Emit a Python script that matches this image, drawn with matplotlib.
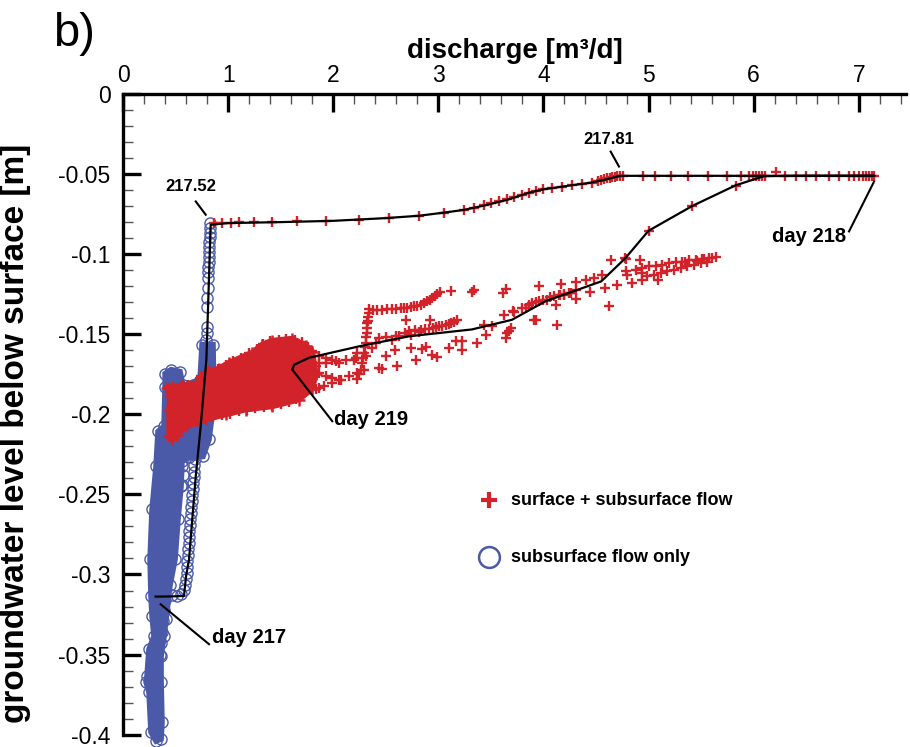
import matplotlib
matplotlib.use('Agg')
from matplotlib import pyplot as plt
from matplotlib.ticker import MultipleLocator

plt.rcParams['font.family'] = ['Liberation Sans Narrow', 'Liberation Sans', 'DejaVu Sans']
BOLD = ['Liberation Sans', 'DejaVu Sans']

RED = '#d2232a'
BLUE = '#4b5aa8'

x_ticks = [0, 1, 2, 3, 4, 5, 6, 7]
y_ticks = [0, -0.05, -0.1, -0.15, -0.2, -0.25, -0.3, -0.35, -0.4]
y_labels = ['0', '-0.05', '-0.1', '-0.15', '-0.2', '-0.25', '-0.3', '-0.35', '-0.4']

# model trajectory day 217 -> 218 -> 219 (discharge, level)
path = [(0.31, -0.3138), (0.45, -0.3137), (0.58, -0.3134), (0.60, -0.3010),
        (0.628, -0.2905), (0.692, -0.2386), (0.739, -0.2074), (0.793, -0.1658),
        (0.834, -0.0817), (1.0, -0.0806), (1.5, -0.0800), (2.0, -0.0792),
        (2.5, -0.0775), (2.82, -0.0760), (3.05, -0.0741), (3.24, -0.0724),
        (3.44, -0.0696), (3.65, -0.0662), (3.86, -0.0617), (4.0, -0.0595),
        (4.27, -0.0570), (4.46, -0.0553), (4.60, -0.0533), (4.73, -0.0511),
        (5.5, -0.0511), (6.2, -0.0511), (7.15, -0.0511), (6.5, -0.0511),
        (6.1, -0.0513), (5.83, -0.0570), (5.42, -0.0698), (5.0, -0.0854),
        (4.78, -0.1025), (4.55, -0.1170), (4.02, -0.1294), (3.70, -0.1410),
        (3.32, -0.1470), (2.72, -0.1513), (2.25, -0.1575), (1.77, -0.1647),
        (1.63, -0.1690), (1.61, -0.1720)]

# subsurface flow only: saturated core of the circle cloud (outline)
blue_mass = [(0.400, -0.1746), (0.457, -0.1721), (0.542, -0.1733), (0.571, -0.1820),
             (0.733, -0.1783), (0.752, -0.1565), (0.856, -0.1565), (0.866, -0.1908),
             (0.818, -0.2157), (0.761, -0.2263), (0.628, -0.2269), (0.561, -0.2294),
             (0.552, -0.2450), (0.523, -0.2656), (0.495, -0.2905), (0.447, -0.3067),
             (0.409, -0.3279), (0.390, -0.3385), (0.362, -0.3510), (0.362, -0.3672),
             (0.371, -0.3921), (0.362, -0.4027), (0.314, -0.4040), (0.266, -0.3984),
             (0.247, -0.3734), (0.219, -0.3672), (0.228, -0.3635), (0.247, -0.3466),
             (0.295, -0.3385), (0.276, -0.3261), (0.266, -0.3136), (0.257, -0.2905),
             (0.276, -0.2594), (0.314, -0.2325), (0.333, -0.2107), (0.390, -0.2076),
             (0.400, -0.1827)]

blue_col = [(0.830, -0.0804), (0.828, -0.0835), (0.826, -0.0867), (0.824, -0.0892),
            (0.822, -0.0923), (0.820, -0.0954), (0.818, -0.0985), (0.816, -0.1016),
            (0.814, -0.1047), (0.812, -0.1079), (0.810, -0.1110), (0.808, -0.1147),
            (0.805, -0.1209), (0.802, -0.1272), (0.800, -0.1328), (0.797, -0.1453),
            (0.795, -0.1490), (0.793, -0.1534), (0.790, -0.1577), (0.788, -0.1615),
            (0.786, -0.1658), (0.784, -0.1702), (0.782, -0.1739), (0.780, -0.1780),
            (0.778, -0.1820), (0.775, -0.1860), (0.772, -0.1900)]

blue_strip = [(0.685, -0.2282), (0.680, -0.2319), (0.676, -0.2357), (0.671, -0.2394),
              (0.666, -0.2431), (0.661, -0.2469), (0.657, -0.2506), (0.652, -0.2544),
              (0.647, -0.2581), (0.642, -0.2618), (0.637, -0.2656), (0.633, -0.2693),
              (0.628, -0.2731), (0.628, -0.2768), (0.623, -0.2805), (0.618, -0.2843),
              (0.618, -0.2880), (0.609, -0.2918), (0.609, -0.2955), (0.604, -0.2993),
              (0.599, -0.3030), (0.590, -0.3067), (0.580, -0.3099), (0.552, -0.3123),
              (0.514, -0.3136), (0.466, -0.3130), (0.400, -0.3160), (0.390, -0.3220),
              (0.380, -0.3290), (0.370, -0.3360), (0.360, -0.3430), (0.350, -0.3500),
              (0.560, -0.2320), (0.570, -0.2380), (0.565, -0.2440)]

# surface + subsurface flow: saturated core of the cross cloud (outline)
red_mass = [(0.419, -0.1833), (0.561, -0.1820), (0.695, -0.1808), (0.790, -0.1733),
            (0.913, -0.1714), (1.009, -0.1677), (1.227, -0.1615), (1.323, -0.1565),
            (1.418, -0.1540), (1.608, -0.1527), (1.741, -0.1571), (1.801, -0.1608),
            (1.834, -0.1750), (1.801, -0.1840), (1.675, -0.1908), (1.418, -0.1951),
            (1.170, -0.1970), (0.980, -0.2001), (0.790, -0.2032), (0.599, -0.2076),
            (0.514, -0.2132), (0.466, -0.2157), (0.438, -0.2138), (0.438, -0.1970),
            (0.447, -0.1883)]

red_top = [(0.866, -0.0806), (0.945, -0.0806), (1.025, -0.0806), (1.104, -0.0802),
           (1.246, -0.0802), (1.421, -0.0800), (1.658, -0.0796), (1.929, -0.0790),
           (2.245, -0.0786), (2.531, -0.0773), (2.816, -0.0760), (3.054, -0.0741),
           (3.244, -0.0724), (3.340, -0.0711), (3.435, -0.0696), (3.500, -0.0683),
           (3.577, -0.0669), (3.654, -0.0655), (3.720, -0.0642), (3.796, -0.0630),
           (3.863, -0.0617), (3.930, -0.0605), (4.000, -0.0595), (4.085, -0.0590),
           (4.180, -0.0582), (4.275, -0.0567), (4.370, -0.0561), (4.465, -0.0553),
           (4.520, -0.0545), (4.545, -0.0536), (4.580, -0.0530), (4.608, -0.0526),
           (4.630, -0.0522), (4.655, -0.0519), (4.680, -0.0516), (4.703, -0.0513),
           (4.730, -0.0511), (4.757, -0.0511), (4.948, -0.0511), (5.062, -0.0511),
           (5.211, -0.0511), (5.379, -0.0511), (5.569, -0.0511), (5.750, -0.0511),
           (5.877, -0.0511), (5.960, -0.0511), (5.990, -0.0511), (6.020, -0.0511),
           (6.050, -0.0511), (6.080, -0.0511), (6.110, -0.0511), (6.210, -0.0490),
           (6.300, -0.0511), (6.400, -0.0511), (6.500, -0.0511), (6.590, -0.0511),
           (6.720, -0.0511), (6.810, -0.0511), (6.910, -0.0511), (6.960, -0.0511),
           (7.000, -0.0511), (7.040, -0.0511), (7.070, -0.0511), (7.100, -0.0511),
           (7.130, -0.0511), (7.150, -0.0511), (5.830, -0.0572), (5.417, -0.0698),
           (5.005, -0.0854), (4.783, -0.1029)]

red_cloud = [(1.675, -0.1866), (1.754, -0.1856), (1.834, -0.1841), (1.912, -0.1825),
             (1.991, -0.1804), (2.071, -0.1783), (2.150, -0.1762), (2.229, -0.1741),
             (2.293, -0.1721), (1.834, -0.1700), (1.929, -0.1679), (2.024, -0.1669),
             (2.119, -0.1658), (2.214, -0.1648), (2.309, -0.1638), (1.801, -0.1607),
             (1.865, -0.1638), (1.929, -0.1648), (1.991, -0.1658), (1.865, -0.1679),
             (2.055, -0.1679), (1.738, -0.1700), (1.801, -0.1721), (1.865, -0.1741),
             (1.929, -0.1762), (1.991, -0.1772), (2.055, -0.1783), (1.596, -0.1856),
             (1.738, -0.1852), (1.865, -0.1835), (1.760, -0.1580), (1.700, -0.1550),
             (1.640, -0.1535), (1.550, -0.1530), (1.480, -0.1535), (1.400, -0.1545),
             (1.330, -0.1560), (1.270, -0.1590), (1.200, -0.1620), (1.120, -0.1650),
             (1.050, -0.1665), (0.980, -0.1690), (0.900, -0.1715), (0.820, -0.1725),
             (0.740, -0.1760), (0.700, -0.1800), (0.620, -0.1815), (0.550, -0.1825),
             (0.480, -0.1830), (0.430, -0.1840), (0.500, -0.2120), (0.560, -0.2090),
             (0.620, -0.2065), (0.700, -0.2050), (0.780, -0.2030), (0.860, -0.2015),
             (0.940, -0.2005), (1.020, -0.1995), (1.100, -0.1980), (1.180, -0.1970),
             (1.260, -0.1962), (1.340, -0.1955), (1.420, -0.1950), (1.500, -0.1935),
             (1.580, -0.1920), (1.650, -0.1905)]

red_tail = [(2.340, -0.1340), (2.341, -0.1367), (2.335, -0.1390), (2.330, -0.1415),
            (2.324, -0.1430), (2.324, -0.1460), (2.324, -0.1492), (2.315, -0.1520),
            (2.309, -0.1554), (2.300, -0.1580), (2.293, -0.1617), (2.285, -0.1650),
            (2.277, -0.1679), (2.262, -0.1721), (2.250, -0.1750), (2.230, -0.1780),
            (2.379, -0.1347), (2.420, -0.1347), (2.467, -0.1347), (2.510, -0.1345),
            (2.562, -0.1342), (2.600, -0.1340), (2.642, -0.1338), (2.670, -0.1337),
            (2.705, -0.1336), (2.740, -0.1331), (2.769, -0.1326), (2.800, -0.1322),
            (2.833, -0.1315), (2.860, -0.1308), (2.895, -0.1295), (2.920, -0.1287),
            (2.943, -0.1274), (2.965, -0.1260), (2.990, -0.1247), (3.013, -0.1236),
            (3.118, -0.1233), (3.318, -0.1239), (3.343, -0.1222), (3.616, -0.1243),
            (3.641, -0.1218), (3.958, -0.1201), (4.170, -0.1186), (4.307, -0.1176),
            (4.402, -0.1164), (4.481, -0.1149), (4.560, -0.1128),
            (2.436, -0.1523), (2.500, -0.1520), (2.562, -0.1534), (2.595, -0.1513),
            (2.626, -0.1513), (2.680, -0.1495), (2.721, -0.1482), (2.780, -0.1475),
            (2.833, -0.1471), (2.870, -0.1469), (2.912, -0.1467), (2.945, -0.1460),
            (2.975, -0.1454), (3.005, -0.1450), (3.038, -0.1446), (3.070, -0.1440),
            (3.102, -0.1434), (3.125, -0.1428), (3.149, -0.1421), (3.181, -0.1413),
            (2.690, -0.1409), (2.918, -0.1413), (2.372, -0.1585), (2.404, -0.1554),
            (2.500, -0.1638), (2.588, -0.1596), (2.737, -0.1585), (2.842, -0.1592),
            (2.886, -0.1577), (2.785, -0.1663), (2.990, -0.1643), (2.943, -0.1627),
            (3.102, -0.1585), (3.165, -0.1544), (3.228, -0.1544), (3.228, -0.1596),
            (3.371, -0.1554), (3.451, -0.1503), (3.435, -0.1440), (3.514, -0.1451),
            (2.610, -0.1700), (2.436, -0.1710), (2.467, -0.1716), (2.198, -0.1658),
            (2.229, -0.1617), (2.737, -0.1503), (2.816, -0.1488),
            (3.625, -0.1378), (3.720, -0.1364), (3.641, -0.1523), (3.673, -0.1482),
            (3.689, -0.1461), (3.657, -0.1492), (3.711, -0.1357), (3.799, -0.1336),
            (3.831, -0.1336), (3.860, -0.1320), (3.894, -0.1305), (3.930, -0.1300),
            (3.958, -0.1295), (4.000, -0.1285), (4.037, -0.1284), (4.060, -0.1270),
            (4.100, -0.1260), (4.123, -0.1315), (4.148, -0.1253), (4.160, -0.1255),
            (4.200, -0.1250), (4.240, -0.1245), (4.307, -0.1222), (4.307, -0.1280),
            (4.440, -0.1239), (4.586, -0.1211), (4.703, -0.1191), (4.840, -0.1180),
            (3.911, -0.1409), (4.132, -0.1440), (4.624, -0.1322), (3.927, -0.1409),
            (4.260, -0.1243), (4.196, -0.1253),
            (4.884, -0.1097), (4.941, -0.1087), (5.005, -0.1077), (5.068, -0.1072),
            (5.131, -0.1066), (5.195, -0.1056), (5.259, -0.1052), (5.322, -0.1046),
            (5.350, -0.1050), (5.385, -0.1039), (5.449, -0.1035), (5.460, -0.1040),
            (5.512, -0.1031), (5.530, -0.1028), (5.576, -0.1024), (5.600, -0.1022),
            (5.639, -0.1018),
            (4.941, -0.1118), (4.989, -0.1139), (5.052, -0.1128), (5.116, -0.1118),
            (5.179, -0.1108), (5.243, -0.1097), (5.306, -0.1087), (5.369, -0.1077),
            (5.433, -0.1066), (5.497, -0.1056), (5.559, -0.1046),
            (4.640, -0.1039), (4.776, -0.1024), (4.916, -0.1039), (4.783, -0.1108),
            (4.798, -0.1128), (4.941, -0.1160), (5.093, -0.1164)]

# (text, text position, leader from, leader to, ha, size)
notes = [('217.52', (0.644, -0.0578), (0.692, -0.0671), (0.787, -0.0754), 'center', 12),
         ('217.81', (4.618, -0.0282), (4.640, -0.0360), (4.719, -0.0453), 'center', 12),
         ('day 218', (6.527, -0.0889), (6.908, -0.0858), (7.146, -0.0547), 'center', 14.5),
         ('day 219', (2.008, -0.2032), (1.991, -0.2043), (1.611, -0.1721), 'left', 14.5),
         ('day 217', (0.850, -0.3394), (0.818, -0.3435), (0.358, -0.3186), 'left', 14.5)]


fig = plt.figure(figsize=(9.1, 7.47), dpi=100)
ax = fig.add_axes([0.1352, 0.0165, 0.8604, 0.8577])

# blue: subsurface flow only
bq, bh = zip(*blue_mass)
ax.fill(bq, bh, color=BLUE, lw=4, ec=BLUE, zorder=2, clip_on=False)
ax.plot(bq, bh, 'o', mfc='none', mec=BLUE, ms=8, mew=1, zorder=2, clip_on=False)
for pts in (blue_col, blue_strip):
    q, h = zip(*pts)
    ax.plot(q, h, 'o', mfc='none', mec=BLUE, ms=8, mew=1, zorder=2)

# red: surface + subsurface flow
rq, rh = zip(*red_mass)
ax.fill(rq, rh, color=RED, lw=4, ec=RED, zorder=3)
ax.plot(rq, rh, '+', color=RED, ms=8, mew=1.8, zorder=3)
for pts in (red_cloud, red_tail, red_top):
    q, h = zip(*pts)
    ax.plot(q, h, '+', color=RED, ms=7.5, mew=1.7, zorder=3)

pq, ph = zip(*path)
ax.plot(pq, ph, color='black', lw=1.6, zorder=4)

for txt, pos, p0, p1, ha, size in notes:
    ax.plot([p0[0], p1[0]], [p0[1], p1[1]], color='black', lw=1.5, zorder=4)
    ax.text(pos[0], pos[1], txt, ha=ha, va='center', fontsize=size,
            fontweight='bold', family=BOLD, zorder=5)

# legend
ax.plot([0.467], [0.3655], '+', color=RED, ms=11, mew=3, transform=ax.transAxes)
ax.text(0.4955, 0.3655, 'surface + subsurface flow', transform=ax.transAxes,
        va='center', fontsize=13, fontweight='bold', family=BOLD)
ax.plot([0.467], [0.2768], 'o', mfc='none', mec=BLUE, ms=15, mew=1.8, transform=ax.transAxes)
ax.text(0.4955, 0.2768, 'subsurface flow only', transform=ax.transAxes,
        va='center', fontsize=13, fontweight='bold', family=BOLD)

ax.set_xlim(0, 7.45)
ax.set_ylim(-0.4, 0)
ax.xaxis.tick_top()
ax.xaxis.set_label_position('top')
ax.set_xticks(x_ticks)
ax.set_xticklabels([str(v) for v in x_ticks])
ax.set_yticks(y_ticks)
ax.set_yticklabels(y_labels)
ax.xaxis.set_minor_locator(MultipleLocator(0.2))
ax.yaxis.set_minor_locator(MultipleLocator(0.01))
ax.tick_params(which='major', direction='in', length=13, width=2.4, labelsize=16.5)
ax.tick_params(which='minor', direction='in', length=7, width=1.0, color='#555555')
ax.tick_params(axis='x', which='major', pad=5)
ax.tick_params(axis='y', which='major', pad=9)

for s in ('bottom', 'right'):
    ax.spines[s].set_visible(False)
for s in ('top', 'left'):
    ax.spines[s].set_linewidth(2.4)

ax.set_xlabel('discharge [m³/d]', fontsize=20, fontweight='bold', family=BOLD, labelpad=4)
ax.set_ylabel('groundwater level below surface [m]', fontsize=24, fontweight='bold', family=BOLD)
ax.yaxis.set_label_coords(-0.117, 0.47)

fig.text(0.058, 0.955, 'b)', fontsize=34, va='center', ha='left')

fig.savefig('out.png', dpi=100)
